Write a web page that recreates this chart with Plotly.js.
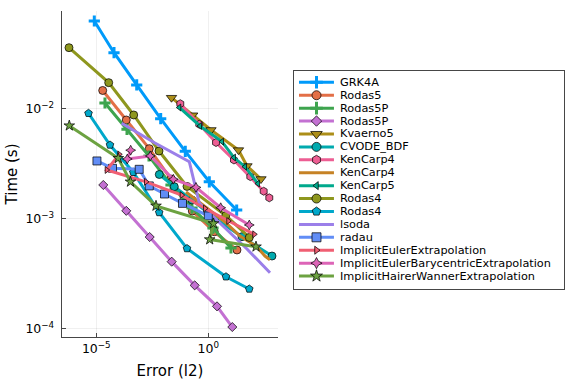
<!DOCTYPE html>
<html>
<head>
<meta charset="utf-8">
<script src="https://cdn.plot.ly/plotly-3.0.1.min.js"></script>
<style>html,body{margin:0;padding:0;background:#fff;}#chart{width:576px;height:384px;}</style>
</head>
<body>
<div id="chart"></div>
<script>
// ---- data (Error (l2), Time (s)) ----
const errGRK4A = [8.15e-6, 6.17e-5, 6.37e-4, 7.50e-3, 0.094, 1.11, 18.5];
const timeGRK4A = [0.0634, 0.0326, 0.01656, 8.16e-3, 4.11e-3, 2.17e-3, 1.20e-3];
const errRodas5 = [1.93e-5, 2.18e-4, 2.32e-3, 0.0216, 0.193, 1.85, 19.1];
const timeRodas5 = [0.01475, 7.94e-3, 4.35e-3, 2.30e-3, 1.175e-3, 7.60e-4, 5.19e-4];
const errRodas5P = [2.44e-5, 2.35e-4, 2.25e-3, 0.0216, 0.187, 1.62, 10.3];
const timeRodas5P = [0.01134, 6.53e-3, 3.73e-3, 2.03e-3, 1.25e-3, 8.22e-4, 5.41e-4];
const errRodas5Pb = [2.05e-5, 2.18e-4, 2.42e-3, 0.0232, 0.247, 2.45, 11.8];
const timeRodas5Pb = [2.03e-3, 1.18e-3, 6.81e-4, 4.06e-4, 2.47e-4, 1.59e-4, 1.03e-4];
const errKvaerno5 = [0.0228, 0.201, 1.32, 22.3, 53.4, 225];
const timeKvaerno5 = [0.01267, 8.77e-3, 6.44e-3, 4.22e-3, 3.02e-3, 2.30e-3];
const errCVODE = [6.49e-3, 0.0303, 0.187, 1.99, 31.9, 698];
const timeCVODE = [2.53e-3, 1.96e-3, 1.48e-3, 1.01e-3, 6.86e-4, 4.57e-4];
const errKenCarp4 = [0.0562, 0.396, 2.21, 14.0, 75, 297, 529];
const timeKenCarp4 = [0.01117, 7.26e-3, 4.95e-3, 3.43e-3, 2.42e-3, 1.78e-3, 1.55e-3];
const errKenCarp4b = [0.101, 0.713, 5.57, 26.0, 135, 340, 567];
const timeKenCarp4b = [1.75e-3, 1.28e-3, 9.33e-4, 6.95e-4, 5.64e-4, 4.57e-4, 4.21e-4];
const errKenCarp5 = [0.0507, 0.426, 4.09, 14.0, 43.5, 165];
const timeKenCarp5 = [0.01032, 7.0e-3, 5.04e-3, 3.61e-3, 2.98e-3, 2.09e-3];
const errRodas4 = [6.04e-7, 3.58e-5, 4.68e-4, 6.30e-3, 0.112, 6.04, 67.6];
const timeRodas4 = [0.0362, 0.01738, 8.82e-3, 4.14e-3, 1.97e-3, 1.07e-3, 6.75e-4];
const errRodas4b = [4.49e-6, 4.09e-5, 4.49e-4, 6.43e-3, 0.112, 6.17, 67.6];
const timeRodas4b = [9.14e-3, 4.70e-3, 2.65e-3, 1.14e-3, 5.35e-4, 2.96e-4, 2.29e-4];
const errLsoda = [1.36e-4, 4.17e-3, 0.142, 0.396, 4.09, 53.4, 568];
const timeLsoda = [7.41e-3, 4.90e-3, 3.31e-3, 1.39e-3, 8.77e-4, 5.30e-4, 3.22e-4];
const errRadau = [1.07e-5, 5.29e-5, 8.22e-4, 2.32e-3, 0.0111, 0.0705, 1.0];
const timeRadau = [3.36e-3, 2.88e-3, 2.82e-3, 1.99e-3, 1.68e-3, 1.38e-3, 1.06e-3];
const errIEE = [113, 7.81, 0.713, 0.0649, 1.66e-3, 2.91e-5, 1.06e-4];
const timeIEE = [7.21e-4, 9.53e-4, 1.24e-3, 1.64e-3, 2.17e-3, 2.78e-3, 3.86e-3];
const errIEBE = [67.6, 3.58, 0.282, 0.0274, 2.57e-3, 2.42e-4, 3.43e-4];
const timeIEBE = [8.77e-4, 1.26e-3, 1.93e-3, 2.29e-3, 3.73e-3, 3.50e-3, 4.21e-3];
const errIHW = [6.23e-7, 9.6e-5, 3.36e-4, 4.63e-3, 1.71, 1.155, 135];
const timeIHW = [7.05e-3, 3.56e-3, 2.17e-3, 1.31e-3, 9.04e-4, 6.46e-4, 5.56e-4];

const names = ["GRK4A","Rodas5","Rodas5P","Rodas5P","Kvaerno5","CVODE_BDF","KenCarp4","KenCarp4",
  "KenCarp5","Rodas4","Rodas4","lsoda","radau","ImplicitEulerExtrapolation",
  "ImplicitEulerBarycentricExtrapolation","ImplicitHairerWannerExtrapolation"];
const colors = ["#009AFA","#E36F47","#3EA44E","#C371D2","#AC8E18","#00AAAE","#ED5E93","#C68225",
  "#00A98D","#8E971E","#00A8CB","#9B7FE9","#618DF6","#F05F73","#DD64B7","#6CA241"];
const symbols = ["cross-thin","circle","cross-thin","diamond","triangle-down","circle","hexagon",null,
  "triangle-left","circle","pentagon",null,"square","triangle-right","star-diamond","star"];
const sizes = [8,8,8,7,9,8,8,0,6,8,8,0,8,6,7,8];
const xs = [errGRK4A,errRodas5,errRodas5P,errRodas5Pb,errKvaerno5,errCVODE,errKenCarp4,errKenCarp4b,
  errKenCarp5,errRodas4,errRodas4b,errLsoda,errRadau,errIEE,errIEBE,errIHW];
const ys = [timeGRK4A,timeRodas5,timeRodas5P,timeRodas5Pb,timeKvaerno5,timeCVODE,timeKenCarp4,timeKenCarp4b,
  timeKenCarp5,timeRodas4,timeRodas4b,timeLsoda,timeRadau,timeIEE,timeIEBE,timeIHW];

const font = "DejaVu Sans, Arial, sans-serif";
const traces = [];
const annotations = [];
const n = names.length;
function markerFor(i, extra) {
  const isCross = symbols[i] === "cross-thin";
  return {symbol: symbols[i], size: sizes[i] + extra, color: colors[i],
    line: {color: isCross ? colors[i] : "rgba(0,0,0,0.9)", width: isCross ? 3 : 0.8}};
}
for (let i = 0; i < n; i++) {
  const t = {
    x: xs[i], y: ys[i], type: "scatter", mode: symbols[i] ? "lines+markers" : "lines",
    name: names[i], line: {color: colors[i], width: 3},
    xaxis: "x", yaxis: "y", showlegend: false, hoverinfo: "skip"
  };
  if (symbols[i]) t.marker = markerFor(i, 0);
  traces.push(t);
}
// custom legend drawn on its own axis pair
for (let i = 0; i < n; i++) {
  traces.push({x: [0.0174, 0.147], y: [i, i], type: "scatter", mode: "lines",
    line: {color: colors[i], width: 3}, xaxis: "x2", yaxis: "y2", showlegend: false, hoverinfo: "skip"});
  if (symbols[i]) {
    traces.push({x: [0.0823], y: [i], type: "scatter", mode: "markers",
      marker: markerFor(i, 1), xaxis: "x2", yaxis: "y2", showlegend: false, hoverinfo: "skip"});
  }
  annotations.push({xref: "x2", yref: "y2", x: 0.1657, y: i, text: names[i], showarrow: false,
    xanchor: "left", yanchor: "middle", borderpad: 0,
    font: {family: font, size: 11.3, color: "#000"}});
}

const axisLine = "rgb(70,70,70)";
const layout = {
  width: 576, height: 384,
  margin: {l: 62, r: 9, t: 11, b: 47},
  paper_bgcolor: "#fff", plot_bgcolor: "#fff",
  showlegend: false,
  font: {family: font, color: "#000"},
  xaxis: {
    type: "log", domain: [0, 0.42772], range: [-6.531, 3.112],
    tickvals: [1e-5, 1], ticktext: ["10<sup>−5</sup>", "10<sup>0</sup>"],
    ticks: "inside", ticklen: 4, tickcolor: axisLine, tickwidth: 1,
    showgrid: true, gridcolor: "rgba(0,0,0,0.1)", gridwidth: 0.6, zeroline: false,
    showline: true, linecolor: axisLine, linewidth: 1.3, mirror: false,
    tickfont: {family: font, size: 12.5, color: "#000"},
    title: {text: "Error (l2)", font: {family: font, size: 15, color: "#000"}, standoff: 10},
    anchor: "y"
  },
  yaxis: {
    type: "log", range: [-4.078, -1.107],
    tickvals: [1e-4, 1e-3, 1e-2], ticktext: ["10<sup>−4</sup>", "10<sup>−3</sup>", "10<sup>−2</sup>"],
    ticks: "inside", ticklen: 4, tickcolor: axisLine, tickwidth: 1,
    showgrid: true, gridcolor: "rgba(0,0,0,0.1)", gridwidth: 0.6, zeroline: false,
    showline: true, linecolor: axisLine, linewidth: 1.3, mirror: false,
    tickfont: {family: font, size: 12.5, color: "#000"},
    ticklabelstandoff: 4,
    title: {text: "Time (s)", font: {family: font, size: 15, color: "#000"}, standoff: 4},
    anchor: "x"
  },
  xaxis2: {domain: [0.46, 0.99406], range: [0, 1], anchor: "y2", showgrid: false, zeroline: false,
    showticklabels: false, ticks: "", showline: true, mirror: true, linecolor: axisLine, linewidth: 1, fixedrange: true},
  yaxis2: {domain: [0.14816, 0.81595], range: [15.98, -0.876], anchor: "x2", showgrid: false, zeroline: false,
    showticklabels: false, ticks: "", showline: true, mirror: true, linecolor: axisLine, linewidth: 1, fixedrange: true},
  annotations: annotations
};
Plotly.newPlot("chart", traces, layout, {staticPlot: true, displayModeBar: false});
</script>
</body>
</html>
